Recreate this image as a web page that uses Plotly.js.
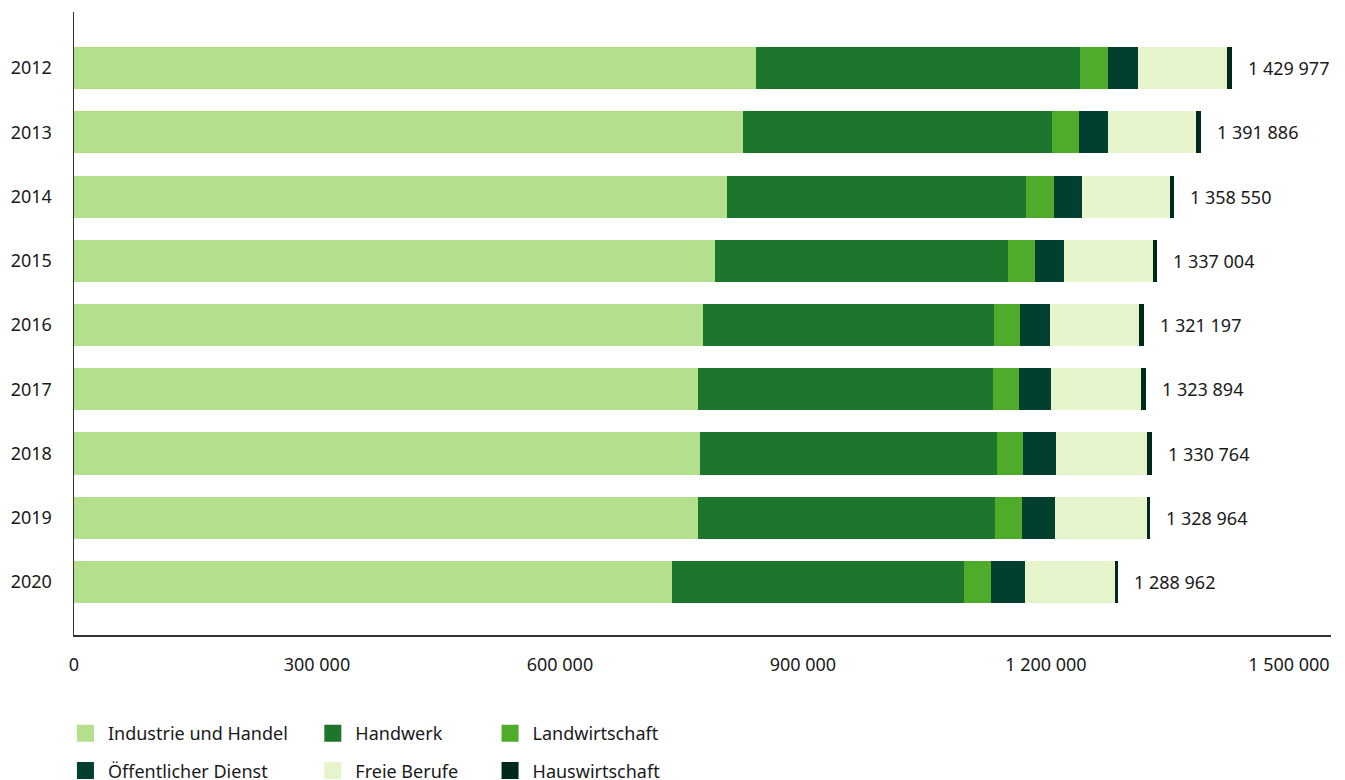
<!DOCTYPE html>
<html>
<head>
<meta charset="utf-8">
<script src="https://cdn.plot.ly/plotly-3.0.1.min.js"></script>
<style>
  html, body { margin: 0; padding: 0; background: #ffffff; }
  #chart { width: 1345px; height: 780px; }
</style>
</head>
<body>
<div id="chart"></div>
<script>
// ---- data ----
const years = ["2012", "2013", "2014", "2015", "2016", "2017", "2018", "2019", "2020"];
const industrieUndHandel = [842000, 826000, 806000, 791000, 776000, 771000, 773500, 770000, 738300];
const handwerk = [400000, 381500, 369000, 361700, 360500, 364200, 366700, 366700, 360500];
const landwirtschaft = [34600, 33300, 34600, 33300, 32100, 32100, 32100, 33300, 33300];
const oeffentlicherDienst = [37000, 35800, 34600, 35800, 37000, 39500, 40700, 40700, 42000];
const freieBerufe = [109900, 108600, 108600, 109900, 109900, 111100, 112300, 113600, 111100];
const hauswirtschaft = [6500, 6700, 5700, 5300, 5700, 5900, 5400, 4600, 3800];
const totals = [1429977, 1391886, 1358550, 1337004, 1321197, 1323894, 1330764, 1328964, 1288962];
const seriesNames = ["Industrie und Handel", "Handwerk", "Landwirtschaft", "Öffentlicher Dienst", "Freie Berufe", "Hauswirtschaft"];
const xTickValues = [0, 300000, 600000, 900000, 1200000, 1500000];

// ---- styles ----
const colors = ["#b4df8c", "#1c762b", "#4eac2a", "#023f2f", "#e5f4ca", "#00291c"];
const seriesValues = [industrieUndHandel, handwerk, landwirtschaft, oeffentlicherDienst, freieBerufe, hauswirtschaft];
const legendIds = ["legend", "legend2", "legend3", "legend", "legend2", "legend3"];
const FONT = "Noto Sans, Open Sans, sans-serif";
const TXT = "#1a1a1a";

function fmt(v) { return String(v).replace(/\B(?=(\d{3})+(?!\d))/g, " "); }

const traces = [];
seriesValues.forEach((vals, i) => {
  traces.push({
    type: "bar", orientation: "h",
    x: vals, y: years,
    name: seriesNames[i],
    marker: { color: colors[i], line: { width: 0 } },
    showlegend: false,
    hoverinfo: "skip"
  });
});
// legend-only entries (larger swatches)
seriesValues.forEach((vals, i) => {
  traces.push({
    type: "bar", orientation: "h",
    x: [null], y: [null],
    name: seriesNames[i],
    marker: { color: colors[i], line: { width: 5, color: colors[i] } },
    legend: legendIds[i],
    legendgroup: "g" + i,
    showlegend: true,
    hoverinfo: "skip"
  });
});

// total labels at the end of each bar (y given as category index)
const annotations = totals.map((t, i) => ({
  x: t, y: i, xref: "x", yref: "y",
  text: fmt(t), showarrow: false,
  xanchor: "left", yanchor: "middle", xshift: 14,
  font: { family: FONT, size: 18, color: TXT }
}));

const legendBase = {
  orientation: "v",
  traceorder: "grouped",
  yanchor: "top", xanchor: "left",
  y: -0.1284,
  font: { family: FONT, size: 18, color: TXT },
  bgcolor: "rgba(0,0,0,0)",
  itemwidth: 35,
  tracegroupgap: 11,
  itemclick: false, itemdoubleclick: false
};

const layout = {
  width: 1345, height: 780,
  margin: { l: 74, r: 14, t: 12, b: 145, autoexpand: false },
  paper_bgcolor: "#ffffff", plot_bgcolor: "#ffffff",
  barmode: "stack",
  bargap: 0.346,
  separators: ", ",
  hovermode: false,
  font: { family: FONT, size: 18, color: TXT },
  xaxis: {
    range: [0, 1552000],
    tickvals: xTickValues,
    tickformat: ",d",
    showgrid: false, zeroline: false,
    showline: true, linecolor: "#333333", linewidth: 1.5,
    ticks: "", ticklabelstandoff: 13,
    tickfont: { family: FONT, size: 18, color: TXT },
    fixedrange: true
  },
  yaxis: {
    type: "category",
    categoryorder: "array", categoryarray: years,
    range: [8.825, -0.872],
    showgrid: false, zeroline: false,
    showline: true, linecolor: "#333333", linewidth: 1.5,
    ticks: "", ticklabelstandoff: 17,
    tickfont: { family: FONT, size: 18, color: TXT },
    fixedrange: true
  },
  legend: Object.assign({}, legendBase, { x: -0.0088 }),
  legend2: Object.assign({}, legendBase, { x: 0.188 }),
  legend3: Object.assign({}, legendBase, { x: 0.329 }),
  annotations: annotations
};

Plotly.newPlot("chart", traces, layout, { displayModeBar: false, staticPlot: true });
</script>
</body>
</html>
